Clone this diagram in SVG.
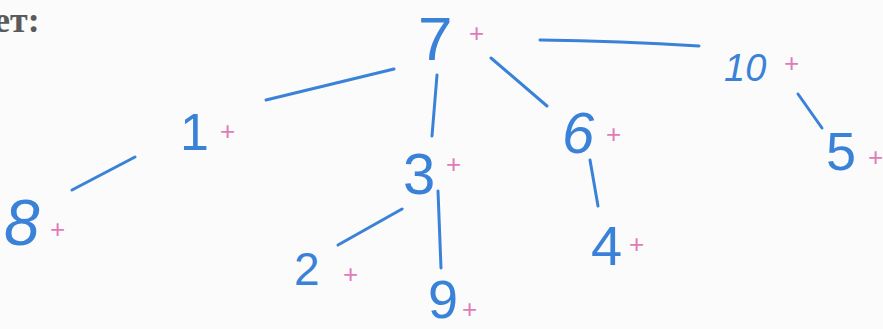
<svg xmlns="http://www.w3.org/2000/svg" width="883" height="329" viewBox="0 0 883 329">
<style>
.bg{fill:#fbfbfb}
.n{font-family:"Liberation Sans",Arial,sans-serif;fill:#3a82d8}
.p{font-family:"Liberation Sans",Arial,sans-serif;fill:#e07ab8;font-size:26px}
.c{fill:none;stroke:#3a82d8;stroke-width:3;stroke-linecap:round}
.hdr{font-family:"Liberation Serif","Times New Roman",serif;font-weight:bold;font-size:36px;fill:#5a5a5a}
</style>
<rect class="bg" x="0" y="0" width="883" height="329"/>
<text class="hdr" x="-6" y="32">ет:</text>
<g id="connectors">
<path class="c" d="M266 100 L394 69"/>
<path class="c" d="M437 75 L432 136"/>
<path class="c" d="M491 58 L547 106"/>
<path class="c" d="M540 40 Q620 41 699 46"/>
<path class="c" d="M798 94 L822 128"/>
<path class="c" d="M72 190 L135 157"/>
<path class="c" d="M338 245 L402 209"/>
<path class="c" d="M438 191 L441 268"/>
<path class="c" d="M590 160 L598 206"/>
</g>
<g id="n7"><text class="n" x="418" y="60" font-size="62">7</text><text class="p" x="469" y="42">+</text></g>
<g id="n1"><text class="n" x="180" y="150" font-size="52">1</text><text class="p" x="220" y="140">+</text></g>
<g id="n10"><text class="n" x="724" y="81" font-size="38" font-style="italic">10</text><text class="p" x="784" y="72">+</text></g>
<g id="n5"><text class="n" x="826" y="170" font-size="54">5</text><text class="p" x="868" y="166">+</text></g>
<g id="n8"><text class="n" x="4" y="245" font-size="64" font-style="italic">8</text><text class="p" x="50" y="238">+</text></g>
<g id="n3"><text class="n" x="403" y="194" font-size="58">3</text><text class="p" x="446" y="173">+</text></g>
<g id="n2"><text class="n" x="294" y="285" font-size="46">2</text><text class="p" x="343" y="283">+</text></g>
<g id="n9"><text class="n" x="428" y="318" font-size="54">9</text><text class="p" x="462" y="318">+</text></g>
<g id="n6"><text class="n" x="562" y="153" font-size="58" font-style="italic">6</text><text class="p" x="606" y="143">+</text></g>
<g id="n4"><text class="n" x="591" y="265" font-size="56">4</text><text class="p" x="629" y="253">+</text></g>
</svg>
